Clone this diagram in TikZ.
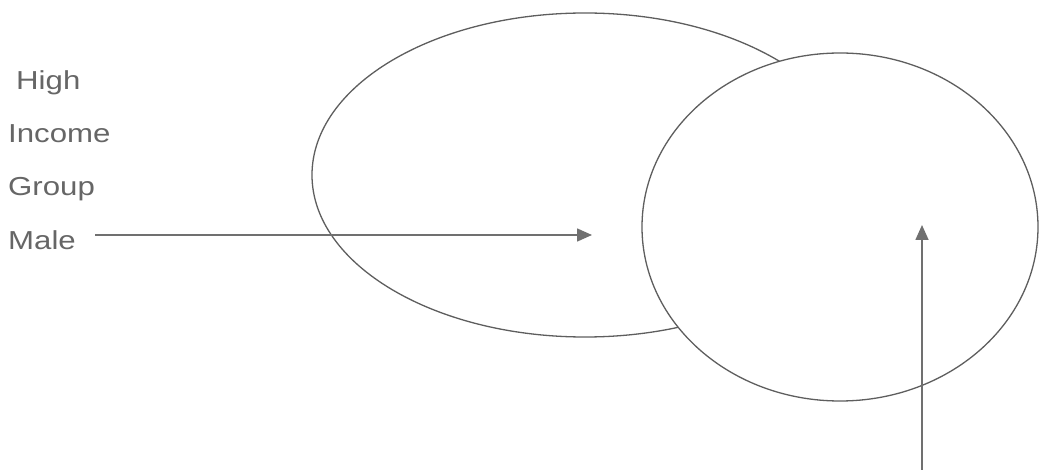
\documentclass[tikz,border=0pt]{standalone}
\usepackage{fontspec}
\setmainfont{Liberation Sans}
\usetikzlibrary{arrows.meta,shapes.geometric}
\definecolor{inkline}{HTML}{5E5E5E}
\definecolor{inkarrow}{HTML}{707070}
\definecolor{inktext}{HTML}{666666}
\begin{document}
\begin{tikzpicture}[x=1pt,y=-1pt,
  setshape/.style={ellipse, draw=inkline, fill=white, line width=1.3pt, inner sep=0pt, outer sep=0pt},
  label/.style={anchor=base west, inner sep=0pt, text=inktext, font=\fontsize{26pt}{30pt}\selectfont},
  pointer/.style={draw=inkarrow, line width=1.6pt, -{Triangle[length=15pt,width=13pt]}}]
\useasboundingbox (0,0) rectangle (1039,470);
\node[setshape, minimum width=546pt, minimum height=324pt] (income) at (585,175) {};
\node[setshape, minimum width=396pt, minimum height=348pt] (male) at (840,227) {};
\node[label] (high) at (16,90) {\scalebox{1.2}[1]{High}};
\node[label] (inc) at (8,143) {\scalebox{1.2}[1]{Income}};
\node[label] (grp) at (8,196) {\scalebox{1.2}[1]{Group}};
\node[label] (mal) at (8,250) {\scalebox{1.2}[1]{Male}};
\coordinate (hstart) at (95,235);
\coordinate (hend) at (592,235);
\coordinate (vstart) at (922,470);
\coordinate (vend) at (922,225);
\draw[pointer] (hstart) -- (hend);
\draw[pointer] (vstart) -- (vend);
\end{tikzpicture}
\end{document}
